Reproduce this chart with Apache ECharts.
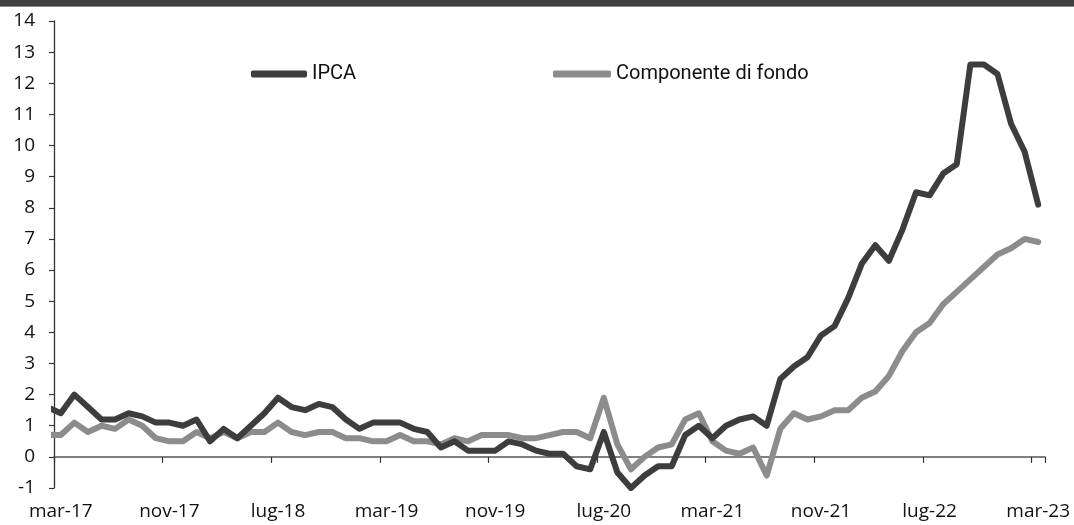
<!DOCTYPE html>
<html>
<head>
<meta charset="utf-8">
<script src="https://cdn.jsdelivr.net/npm/echarts@6/dist/echarts.min.js"></script>
<style>
html,body{margin:0;padding:0;background:#fff;}
#chart{width:1074px;height:525px;}
</style>
</head>
<body>
<div id="chart"></div>
<script>
// Monthly categories, mar-17 .. mar-23
const categories = [
  'mar-17','apr-17','mag-17','giu-17','lug-17','ago-17','set-17','ott-17','nov-17','dic-17',
  'gen-18','feb-18','mar-18','apr-18','mag-18','giu-18','lug-18','ago-18','set-18','ott-18','nov-18','dic-18',
  'gen-19','feb-19','mar-19','apr-19','mag-19','giu-19','lug-19','ago-19','set-19','ott-19','nov-19','dic-19',
  'gen-20','feb-20','mar-20','apr-20','mag-20','giu-20','lug-20','ago-20','set-20','ott-20','nov-20','dic-20',
  'gen-21','feb-21','mar-21','apr-21','mag-21','giu-21','lug-21','ago-21','set-21','ott-21','nov-21','dic-21',
  'gen-22','feb-22','mar-22','apr-22','mag-22','giu-22','lug-22','ago-22','set-22','ott-22','nov-22','dic-22',
  'gen-23','feb-23','mar-23'
];

// Value of the month before the visible window (feb-17); clipped at the plot edge
const ipcaPrev = 1.6;
const corePrev = 0.7;

const ipca = [
  1.4, 2.0, 1.6, 1.2, 1.2, 1.4, 1.3, 1.1, 1.1, 1.0,
  1.2, 0.5, 0.9, 0.6, 1.0, 1.4, 1.9, 1.6, 1.5, 1.7, 1.6, 1.2,
  0.9, 1.1, 1.1, 1.1, 0.9, 0.8, 0.3, 0.5, 0.2, 0.2, 0.2, 0.5,
  0.4, 0.2, 0.1, 0.1, -0.3, -0.4, 0.8, -0.5, -1.0, -0.6, -0.3, -0.3,
  0.7, 1.0, 0.6, 1.0, 1.2, 1.3, 1.0, 2.5, 2.9, 3.2, 3.9, 4.2,
  5.1, 6.2, 6.8, 6.3, 7.3, 8.5, 8.4, 9.1, 9.4, 12.6, 12.6, 12.3,
  10.7, 9.8, 8.1
];

const core = [
  0.7, 1.1, 0.8, 1.0, 0.9, 1.2, 1.0, 0.6, 0.5, 0.5,
  0.8, 0.6, 0.8, 0.6, 0.8, 0.8, 1.1, 0.8, 0.7, 0.8, 0.8, 0.6,
  0.6, 0.5, 0.5, 0.7, 0.5, 0.5, 0.4, 0.6, 0.5, 0.7, 0.7, 0.7,
  0.6, 0.6, 0.7, 0.8, 0.8, 0.6, 1.9, 0.4, -0.4, 0.0, 0.3, 0.4,
  1.2, 1.4, 0.5, 0.2, 0.1, 0.3, -0.6, 0.9, 1.4, 1.2, 1.3, 1.5,
  1.5, 1.9, 2.1, 2.6, 3.4, 4.0, 4.3, 4.9, 5.3, 5.7, 6.1, 6.5,
  6.7, 7.0, 6.9
];

const yTicks = { min: -1, max: 14, interval: 1 };

const DARK = '#3d3d3d';
const GREY = '#8c8c8c';

function toPoints(prev, arr) {
  const pts = [[-0.5, prev]];
  arr.forEach((v, i) => pts.push([i + 0.5, v]));
  return pts;
}

const chart = echarts.init(document.getElementById('chart'), null, { renderer: 'canvas' });

const labelFont = { fontFamily: '"Open Sans", sans-serif', fontSize: 19, color: '#111' };

chart.setOption({
  animation: false,
  backgroundColor: '#ffffff',
  grid: { left: 54, right: 29, top: 21, bottom: 37, containLabel: false, outerBoundsMode: 'none' },
  graphic: [
    { type: 'rect', left: 0, top: 0, shape: { x: 0, y: 0, width: 1074, height: 6 }, style: { fill: '#404040' }, silent: true },
    { type: 'rect', left: 0, top: 6, shape: { x: 0, y: 0, width: 1074, height: 1 }, style: { fill: '#8a8a8a' }, silent: true }
  ],
  legend: [
    {
      data: ['IPCA'], left: 251, top: 64, padding: 0, icon: 'roundRect', itemWidth: 56, itemHeight: 7,
      textStyle: { fontFamily: 'Roboto, sans-serif', fontSize: 20, color: '#111' }, selectedMode: false
    },
    {
      data: ['Componente di fondo'], left: 553, top: 64, padding: 0, icon: 'roundRect', itemWidth: 58, itemHeight: 7,
      textStyle: { fontFamily: 'Roboto, sans-serif', fontSize: 20, color: '#111' }, selectedMode: false
    }
  ],
  xAxis: [
    {
      type: 'category', data: categories, boundaryGap: true, position: 'bottom',
      axisLine: { show: true, onZero: true, lineStyle: { color: '#555', width: 1.5 } },
      axisTick: { show: true, inside: false, length: 6, interval: 7, lineStyle: { color: '#333', width: 1.2 } },
      axisLabel: { show: false, interval: 7 },
      splitLine: { show: false }
    },
    {
      type: 'category', data: categories, boundaryGap: true, position: 'bottom',
      axisLine: { show: false, onZero: false },
      axisTick: { show: false },
      axisLabel: Object.assign({ show: true, interval: 7, margin: 14 }, labelFont),
      splitLine: { show: false }
    },
    {
      type: 'value', min: 0, max: categories.length, show: false,
      axisLine: { onZero: false }, splitLine: { show: false }
    }
  ],
  yAxis: {
    type: 'value', min: yTicks.min, max: yTicks.max, interval: yTicks.interval,
    axisLine: { show: true, onZero: false, lineStyle: { color: '#333', width: 1.3 } },
    axisTick: { show: true, inside: false, length: 5, lineStyle: { color: '#333', width: 1.2 } },
    axisLabel: Object.assign({ margin: 19 }, labelFont),
    splitLine: { show: false }
  },
  series: [
    {
      name: 'IPCA', type: 'line', xAxisIndex: 2, yAxisIndex: 0,
      data: toPoints(ipcaPrev, ipca), showSymbol: false, symbol: 'none', clip: true,
      itemStyle: { color: DARK },
      lineStyle: { color: DARK, width: 6, cap: 'round', join: 'round' },
      z: 3
    },
    {
      name: 'Componente di fondo', type: 'line', xAxisIndex: 2, yAxisIndex: 0,
      data: toPoints(corePrev, core), showSymbol: false, symbol: 'none', clip: true,
      itemStyle: { color: GREY },
      lineStyle: { color: GREY, width: 6, cap: 'round', join: 'round' },
      z: 2
    }
  ]
});
</script>
</body>
</html>
